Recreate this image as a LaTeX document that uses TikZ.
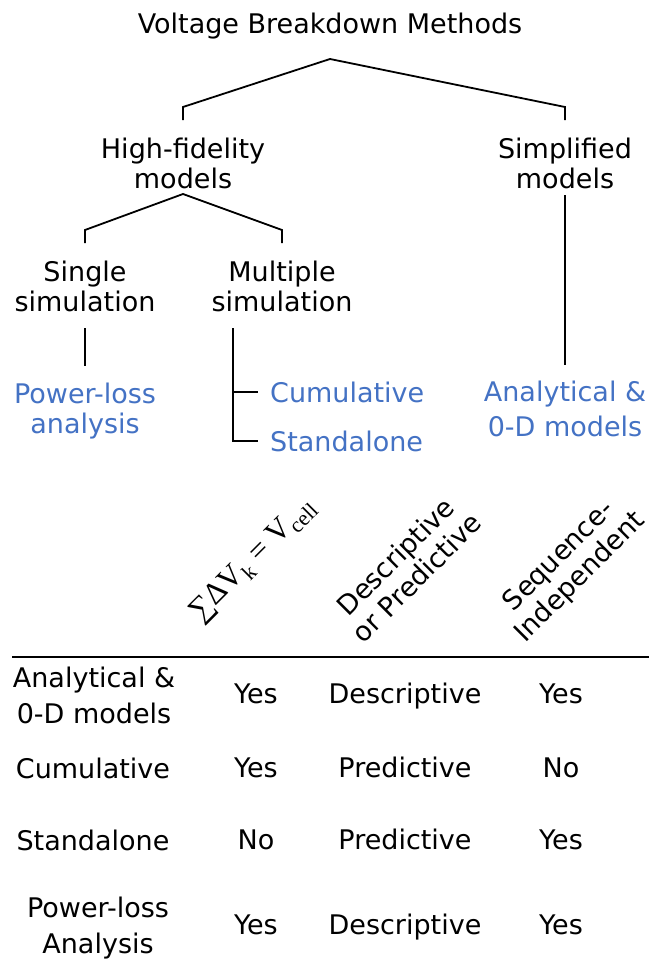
\documentclass[tikz,border=0pt]{standalone}
\usepackage{fontspec}
\setmainfont{DejaVu Sans}
\newfontfamily\sumfont{Liberation Serif}
\definecolor{leafblue}{HTML}{4472C4}
\tikzset{
  lbl/.style={align=center, inner sep=0pt, font=\fontsize{27}{30}\selectfont},
  leaf/.style={lbl, text=leafblue},
  colhead/.style={lbl, rotate=45},
  branch/.style={line width=1.8pt},
  rule/.style={line width=2.4pt}
}

\begin{document}
\begin{tikzpicture}[x=1pt, y=-1pt]
  \useasboundingbox (0,0) rectangle (649,969);

  % Tree of methods
  \node[lbl] (title) at (330,26) {Voltage Breakdown Methods};
  \coordinate (top) at (330,59);
  \node[lbl] (hf) at (183,163) {High-fidelity\\models};
  \node[lbl] (simp) at (565,163) {Simplified\\models};
  \draw[branch] (hf |- 0,120) -- (hf |- 0,107) -- (top) -- (simp |- 0,107) -- (simp |- 0,120);

  \coordinate (hftop) at (183,194);
  \node[lbl] (single) at (85,286) {Single\\simulation};
  \node[lbl] (multi) at (282,286) {Multiple\\simulation};
  \draw[branch] (single |- 0,243) -- (single |- 0,230) -- (hftop) -- (multi |- 0,230) -- (multi |- 0,243);

  % Leaves
  \node[leaf] (ploss) at (85,411) {Power-loss\\analysis};
  \node[leaf, anchor=west] (cumu) at (270,392) {Cumulative};
  \node[leaf, anchor=west] (stand) at (270,441) {Standalone};
  \node[leaf] (analy) at (565,409) {Analytical \&\\[5pt]0-D models};
  \draw[branch] (single |- 0,328) -- (ploss |- 0,366);
  \draw[branch] (simp |- 0,195) -- (analy |- 0,365);
  \draw[branch] (233,328) |- ([xshift=-12pt]stand.west);
  \draw[branch] (233,392) -- ([xshift=-12pt]cumu.west);

  % Comparison table
  \node[colhead, font=\fontsize{31}{32}\sumfont] (hsum) at (253,560)
    {∑ΔV\textsubscript{k} = V\textsubscript{cell}};
  \node[colhead] (hdesc) at (406,567) {Descriptive\\or Predictive};
  \node[colhead] (hseq) at (570,567) {Sequence-\\Independent};
  \draw[rule] (12,657) -- (649,657);

  \node[lbl] (row1) at (94,695) {Analytical \&\\[6pt]0-D models};
  \node[lbl] (row2) at (93,768) {Cumulative};
  \node[lbl] (row3) at (93,840) {Standalone};
  \node[lbl] (row4) at (98,928) {Power-loss\\[6pt]Analysis};
  \foreach \y/\a/\b/\c [count=\i] in {703.5/Yes/Descriptive/Yes, 777.5/Yes/Predictive/No,
      849.5/No/Predictive/Yes, 934.5/Yes/Descriptive/Yes}{
    \node[lbl, anchor=base] (sum\i) at (256,\y) {\a};
    \node[lbl, anchor=base] (desc\i) at (405,\y) {\b};
    \node[lbl, anchor=base] (seq\i) at (561,\y) {\c};
  }
\end{tikzpicture}
\end{document}
